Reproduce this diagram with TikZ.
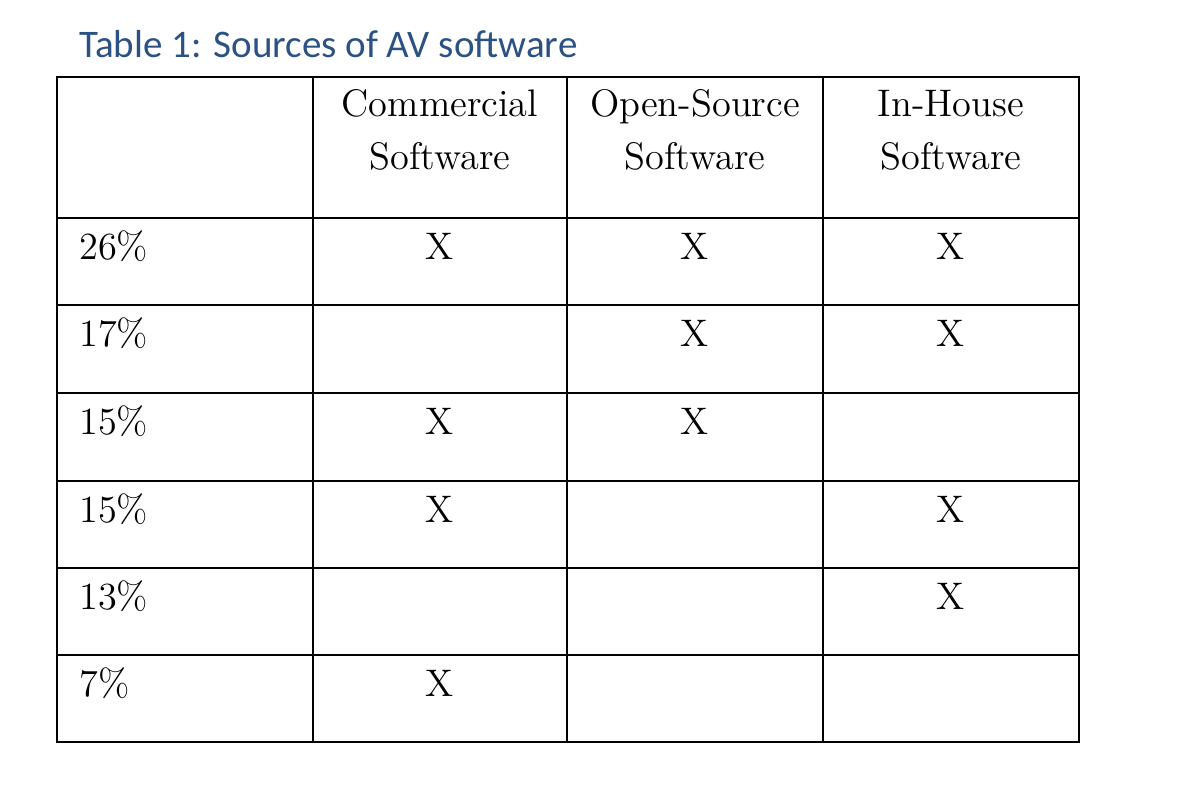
\documentclass[tikz,border=0pt]{standalone}
\usepackage{fontspec}
\newfontfamily\captionfont{Carlito}
\definecolor{captionblue}{HTML}{2B5282}

\begin{document}
\begin{tikzpicture}[x=0.3125pt,y=-0.3125pt,line width=0.75pt,
	cell/.style={anchor=base,inner sep=0pt,font=\fontsize{12}{14}\selectfont}]
	\useasboundingbox (0,0) rectangle (1182,806);
	\node (title) at (78,58) [anchor=base west,inner sep=0pt,text=captionblue,font=\captionfont\fontsize{12.2}{14}\selectfont] {Table 1: Sources of AV software};
	% grid
	\draw (57,77) rectangle (1079,742);
	\foreach \x in {313,567,823} \draw (\x,77) -- (\x,742);
	\foreach \y in {218,305,393,481,568,655} \draw (57,\y) -- (1079,\y);
	% header
	\node (com1) at (440,117) [cell] {Commercial};
	\node (com2) at (440,170) [cell] {Software};
	\node (open1) at (695,117) [cell] {Open-Source};
	\node (open2) at (695,170) [cell] {Software};
	\node (house1) at (951,117) [cell] {In-House};
	\node (house2) at (951,170) [cell] {Software};
	% shares
	\foreach \pc/\yb [count=\i] in {26/260,17/347,15/435,15/523,13/610,7/697}
		\node (pct\i) at (78,\yb) [cell,anchor=base west] {\pc\%};
	% marks
	\foreach \n/\x/\yb in {c1/440/260,o1/695/260,h1/951/260,o2/695/347,h2/951/347,
		c3/440/435,o3/695/435,c4/440/523,h4/951/523,h5/951/610,c6/440/697}
		\node (x\n) at (\x,\yb) [cell] {X};
\end{tikzpicture}
\end{document}
